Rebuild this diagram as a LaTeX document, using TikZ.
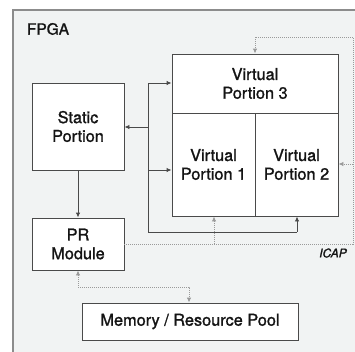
\documentclass[tikz,border=0pt]{standalone}
\usepackage{fontspec}
\setmainfont{TeX Gyre Heros}[FakeBold=1.3]
\usetikzlibrary{arrows.meta}
\definecolor{bgc}{HTML}{F1F3F3}
\definecolor{linec}{HTML}{4A4A4A}
\definecolor{dotc}{HTML}{9A9A9A}
\definecolor{framec}{HTML}{8C8C8C}
\definecolor{txtc}{HTML}{141414}
\begin{document}
\begin{tikzpicture}[x=1pt,y=-1pt,
  box/.style={draw=linec, fill=white, line width=0.9pt, align=center, text=txtc,
    font=\fontsize{16.3}{18.7}\selectfont, inner sep=0pt},
  arr/.style={draw=linec, line width=0.9pt, -{Latex[length=5pt,width=4.5pt]}},
  dline/.style={draw=dotc, line width=0.9pt, dash pattern=on 1pt off 1pt},
  darr/.style={dline, -{Latex[length=5pt,width=4.5pt]}},
  lbl/.style={text=txtc, inner sep=0pt}]
\useasboundingbox (0,0) rectangle (355,351);
\clip (0,0) rectangle (355,351);
\fill[white] (0,0) rectangle (355,351);
\draw[framec, line width=1.5pt, fill=bgc] (13,10) rectangle (380,380);
\node[lbl, font=\fontsize{15.5}{18}\selectfont] (fpga) at (48,29) {FPGA};

\node[box, minimum width=92pt, minimum height=87pt] (static) at (78,126.5) {Static\\Portion};
\node[box, minimum width=92pt, minimum height=52pt] (pr) at (78,244) {PR\\Module};
\node[box, minimum width=166pt, minimum height=59pt] (vp3) at (255,83.5) {Virtual\\Portion 3};
\node[box, minimum width=83pt, minimum height=103pt] (vp1) at (213.5,164.5) {Virtual\\Portion 1};
\node[box, minimum width=83pt, minimum height=103pt] (vp2) at (296.5,164.5) {Virtual\\Portion 2};
\node[box, minimum width=216pt, minimum height=37pt] (mem) at (190,321.5) {Memory / Resource Pool};
\node[lbl, font=\fontsize{12}{13}\itshape] (icap) at (333,253) {ICAP};

% solid bus
\coordinate (btop) at (148,83);
\coordinate (bmid) at (148,127);
\coordinate (blow) at (148,170);
\coordinate (bbot) at (148,232);
\coordinate (bcor) at (297,232);
\draw[linec, line width=0.9pt] (btop) -- (bbot) -- (bcor);
\draw[arr] (btop) -- (btop -| vp3.west);
\draw[arr] (blow) -- (blow -| vp1.west);
\draw[arr] (bmid) -- (bmid -| static.east);
\draw[arr] (bcor) -- (bcor |- vp2.south);
\draw[arr] (static.south) -- (pr.north);

% dotted ICAP network
\coordinate (ic0) at (124,244);
\coordinate (ic1) at (353,244);
\coordinate (ic2) at (353,37);
\coordinate (ic3) at (255,37);
\coordinate (icv) at (353,164);
\coordinate (icp) at (214,244);
\draw[dline] (pr.east |- ic0) -- (ic1) -- (ic2) -- (ic3);
\draw[darr] (ic3) -- (vp3.north);
\draw[darr] (icv) -- (icv -| vp2.east);
\draw[darr] (icp) -- (icp |- vp1.south);

% PR <-> memory
\coordinate (pm1) at (78,287);
\coordinate (pm2) at (189,287);
\draw[dline, {Latex[length=5pt,width=4.5pt]}-{Latex[length=5pt,width=4.5pt]}] (pr.south) -- (pm1) -- (pm2) -- (pm2 |- mem.north);
\end{tikzpicture}
\end{document}
